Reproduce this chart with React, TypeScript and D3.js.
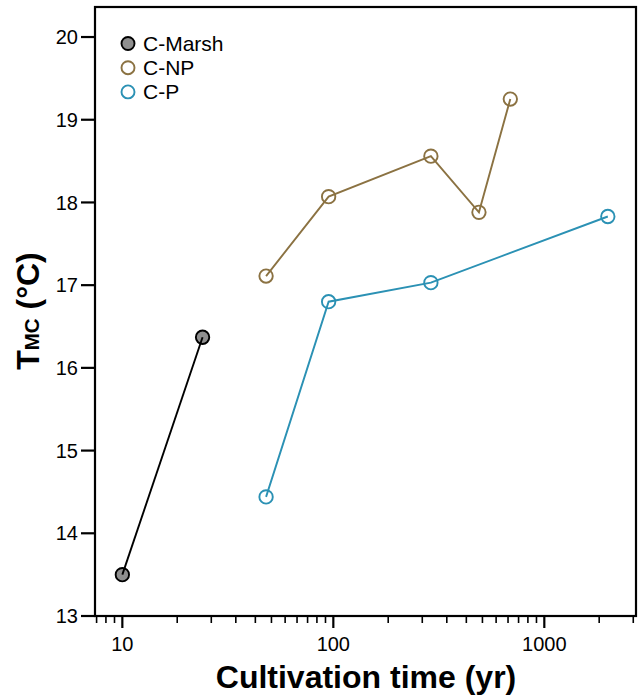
import React from "react";
import * as d3 from "d3";

const W = 644;
const H = 699;

const marshX = [10, 24];
const marshY = [13.5, 16.37];
const npX = [48, 95, 290, 490, 690];
const npY = [17.11, 18.07, 18.56, 17.88, 19.25];
const cpX = [48, 95, 290, 2000];
const cpY = [14.44, 16.8, 17.03, 17.83];

const xMajorTicks = [10, 100, 1000];
const xMinorTicks = [7.55, 8.36, 9.18, 18.2, 26.4, 34.5, 42.7, 50.9, 59.1, 67.3, 75.5, 83.6, 91.8,
  182, 264, 345, 427, 509, 591, 673, 755, 836, 918, 1820, 2640];
const yTicks = [13, 14, 15, 16, 17, 18, 19, 20];

const legendNames = ["C-Marsh", "C-NP", "C-P"];

const BROWN = "#8b7242";
const BLUE = "#2b91b4";
const GRAY = "#8f8f8f";

const left = 95, right = 636, top = 7, bottom = 616;

export default function App() {
  const x = d3.scaleLog().domain([7.42, 2720]).range([left, right]);
  const y = d3.scaleLinear().domain([13, 20.363]).range([bottom, top]);
  const line = d3.line<[number, number]>().x((d) => x(d[0])).y((d) => y(d[1]));
  const zip = (a: number[], b: number[]) => a.map((v, i) => [v, b[i]] as [number, number]);
  const marsh = zip(marshX, marshY);
  const np = zip(npX, npY);
  const cp = zip(cpX, cpY);
  const font = "Arial, 'Liberation Sans', Helvetica, sans-serif";
  const series = [
    { name: legendNames[0], data: marsh, stroke: "#000", fill: GRAY, line: "#000" },
    { name: legendNames[1], data: np, stroke: BROWN, fill: "none", line: BROWN },
    { name: legendNames[2], data: cp, stroke: BLUE, fill: "none", line: BLUE },
  ];
  return (
    <svg width={W} height={H} style={{ position: "absolute", left: 0, top: 0 }} fontFamily={font}>
      <rect x={0} y={0} width={W} height={H} fill="#fff" />
      <rect x={left} y={top} width={right - left} height={bottom - top} fill="none" stroke="#000" strokeWidth={2.2} />
      {yTicks.map((t) => (
        <g key={"y" + t}>
          <line x1={81} x2={left} y1={y(t)} y2={y(t)} stroke="#000" strokeWidth={2.2} />
          <text x={78} y={y(t)} dy="0.36em" textAnchor="end" fontSize={20}>{t}</text>
        </g>
      ))}
      {xMinorTicks.map((t) => (
        <line key={"m" + t} x1={x(t)} x2={x(t)} y1={bottom} y2={bottom + 7} stroke="#000" strokeWidth={1.6} />
      ))}
      {xMajorTicks.map((t) => (
        <g key={"x" + t}>
          <line x1={x(t)} x2={x(t)} y1={bottom} y2={bottom + 12} stroke="#000" strokeWidth={2.2} />
          <text x={x(t)} y={651} textAnchor="middle" fontSize={20}>{t}</text>
        </g>
      ))}
      {series.map((s) => (
        <g key={s.name}>
          {s.data.map((d, i) => (
            <circle key={i} cx={x(d[0])} cy={y(d[1])} r={6.7} fill={s.fill} stroke={s.stroke} strokeWidth={1.9} />
          ))}
          <path d={line(s.data) || ""} fill="none" stroke={s.line} strokeWidth={1.9} />
        </g>
      ))}
      {series.map((s, i) => (
        <g key={"l" + s.name}>
          <circle cx={128} cy={43.5 + i * 24.2} r={6.5} fill={s.fill} stroke={s.stroke} strokeWidth={1.9} />
          <text x={143} y={43.5 + i * 24.2} dy="0.36em" fontSize={21}>{s.name}</text>
        </g>
      ))}
      <text x={366} y={688} textAnchor="middle" fontSize={32} fontWeight="bold">Cultivation time (yr)</text>
      <text transform="translate(39,311) rotate(-90)" textAnchor="middle" fontSize={32} fontWeight="bold">
        <tspan>T</tspan>
        <tspan fontSize={20.5}>MC</tspan>
        <tspan> (°C)</tspan>
      </text>
    </svg>
  );
}
